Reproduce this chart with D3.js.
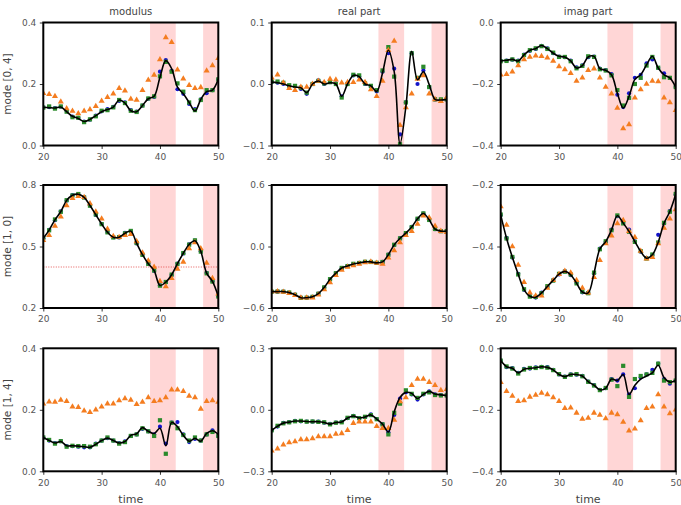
<!DOCTYPE html>
<html><head><meta charset="utf-8">
<script src="https://cdn.jsdelivr.net/npm/d3@7"></script>
<style>body{margin:0;background:#fff}svg{display:block}</style>
</head><body>
<script>
const time = [20,21,22,23,24,25,26,27,28,29,30,31,32,33,34,35,36,37,38,39,40,41,42,43,44,45,46,47,48,49,50];
const colTitles = ["modulus", "real part", "imag part"];
const rowLabels = ["mode [0, 4]", "mode [1, 0]", "mode [1, 4]"];
const xTicks = [20, 30, 40, 50];
const spans = [[38.3, 42.7], [47.4, 50.5]];
const yTicks = [
  [[0.0, 0.2, 0.4], [-0.1, 0.0, 0.1], [-0.4, -0.2, 0.0]],
  [[0.2, 0.5, 0.8], [-0.6, 0.0, 0.6], [-0.6, -0.4, -0.2]],
  [[0.0, 0.2, 0.4], [-0.3, 0.0, 0.3], [-0.4, -0.2, 0.0]]
];
const refLine10 = 0.4;

// mode [0,4]
const truthMod04 = [0.124,0.123,0.122,0.125,0.11,0.095,0.088,0.078,0.085,0.097,0.11,0.117,0.125,0.148,0.138,0.113,0.11,0.13,0.152,0.16,0.222,0.276,0.25,0.19,0.168,0.14,0.112,0.15,0.175,0.18,0.215];
const blueMod04  = [0.124,0.125,0.122,0.126,0.112,0.094,0.09,0.078,0.084,0.097,0.111,0.118,0.126,0.145,0.14,0.115,0.11,0.13,0.152,0.158,0.24,0.278,0.243,0.183,0.168,0.135,0.118,0.15,0.17,0.18,0.215];
const greenMod04 = [0.123,0.127,0.12,0.127,0.11,0.092,0.09,0.076,0.085,0.095,0.113,0.115,0.124,0.148,0.138,0.113,0.109,0.13,0.153,0.16,0.225,0.272,0.24,0.202,0.175,0.14,0.115,0.148,0.18,0.18,0.215];
const orangeMod04= [0.17,0.167,0.16,0.142,0.12,0.112,0.104,0.112,0.117,0.128,0.145,0.157,0.168,0.186,0.178,0.151,0.148,0.18,0.213,0.229,0.28,0.351,0.336,0.246,0.217,0.196,0.186,0.189,0.243,0.26,0.284];

const truthRe04  = [0.003,0.002,0.0,-0.003,-0.005,-0.006,-0.014,0.0,0.005,0.0,0.002,0.0,-0.02,0.0,0.014,0.012,0.0,-0.003,-0.012,0.018,0.055,0.02,-0.097,-0.037,0.053,0.007,0.02,-0.001,-0.025,-0.026,-0.025];
const blueRe04   = [0.003,0.002,0.0,-0.004,-0.004,-0.008,-0.016,0.0,0.006,0.0,0.003,0.001,-0.02,0.0,0.014,0.012,0.0,-0.004,-0.012,0.02,0.05,0.025,-0.082,-0.03,0.05,0.0,0.022,-0.005,-0.025,-0.027,-0.025];
const greenRe04  = [0.004,0.004,0.002,-0.002,-0.003,-0.006,-0.014,0.0,0.005,0.001,0.003,0.0,-0.022,0.0,0.015,0.014,0.001,-0.003,-0.01,0.022,0.06,0.012,-0.098,-0.03,0.05,0.01,0.028,-0.005,-0.025,-0.025,-0.025];
const orangeRe04 = [0.01,0.015,0.002,-0.007,-0.01,-0.005,-0.005,0.0,0.005,0.003,0.008,0.007,0.002,0.003,0.003,0.007,0.003,-0.009,-0.02,0.005,0.055,0.07,-0.067,-0.038,-0.016,0.008,0.014,-0.016,-0.025,-0.028,-0.022];

const truthIm04  = [-0.125,-0.123,-0.12,-0.125,-0.105,-0.09,-0.085,-0.075,-0.085,-0.1,-0.11,-0.112,-0.125,-0.148,-0.14,-0.112,-0.11,-0.15,-0.155,-0.17,-0.23,-0.278,-0.24,-0.185,-0.17,-0.138,-0.11,-0.148,-0.17,-0.18,-0.21];
const blueIm04   = [-0.125,-0.124,-0.121,-0.124,-0.104,-0.092,-0.086,-0.076,-0.084,-0.1,-0.111,-0.113,-0.124,-0.146,-0.139,-0.113,-0.111,-0.15,-0.155,-0.168,-0.235,-0.275,-0.23,-0.18,-0.17,-0.133,-0.12,-0.148,-0.165,-0.18,-0.21];
const greenIm04  = [-0.126,-0.125,-0.12,-0.126,-0.106,-0.09,-0.084,-0.077,-0.086,-0.098,-0.112,-0.112,-0.126,-0.149,-0.141,-0.11,-0.112,-0.152,-0.156,-0.172,-0.22,-0.27,-0.245,-0.2,-0.18,-0.14,-0.112,-0.147,-0.178,-0.18,-0.21];
const orangeIm04 = [-0.17,-0.168,-0.16,-0.14,-0.12,-0.112,-0.108,-0.11,-0.115,-0.125,-0.143,-0.153,-0.165,-0.19,-0.18,-0.155,-0.15,-0.18,-0.21,-0.232,-0.278,-0.345,-0.332,-0.245,-0.218,-0.2,-0.19,-0.192,-0.245,-0.26,-0.285];

// mode [1,0]
const truthMod10 = [0.54,0.58,0.63,0.67,0.725,0.75,0.755,0.74,0.70,0.655,0.61,0.57,0.545,0.545,0.565,0.575,0.516,0.46,0.416,0.382,0.31,0.326,0.362,0.416,0.467,0.51,0.528,0.476,0.37,0.33,0.257];
const blueMod10  = [0.54,0.581,0.628,0.672,0.724,0.751,0.754,0.741,0.701,0.654,0.61,0.571,0.546,0.544,0.566,0.574,0.515,0.461,0.417,0.381,0.311,0.325,0.361,0.417,0.466,0.511,0.529,0.477,0.371,0.331,0.258];
const greenMod10 = [0.542,0.579,0.632,0.669,0.726,0.749,0.756,0.739,0.699,0.656,0.609,0.569,0.544,0.546,0.564,0.576,0.517,0.459,0.415,0.383,0.309,0.327,0.363,0.415,0.468,0.509,0.53,0.475,0.369,0.329,0.256];
const orangeMod10= [0.53,0.555,0.6,0.645,0.7,0.735,0.745,0.74,0.71,0.67,0.635,0.585,0.55,0.545,0.555,0.56,0.525,0.47,0.43,0.4,0.33,0.305,0.345,0.39,0.425,0.49,0.52,0.49,0.42,0.345,0.27];

const truthRe10  = [-0.44,-0.44,-0.44,-0.45,-0.47,-0.5,-0.5,-0.49,-0.46,-0.4,-0.32,-0.26,-0.21,-0.19,-0.17,-0.16,-0.15,-0.15,-0.16,-0.15,-0.08,0.016,0.08,0.13,0.19,0.27,0.322,0.26,0.17,0.15,0.15];
const blueRe10   = [-0.44,-0.441,-0.44,-0.451,-0.47,-0.499,-0.501,-0.49,-0.459,-0.401,-0.321,-0.259,-0.211,-0.189,-0.171,-0.159,-0.151,-0.149,-0.161,-0.149,-0.079,0.015,0.081,0.129,0.191,0.269,0.321,0.261,0.169,0.151,0.149];
const greenRe10  = [-0.441,-0.439,-0.441,-0.449,-0.471,-0.501,-0.499,-0.491,-0.461,-0.399,-0.319,-0.261,-0.209,-0.191,-0.169,-0.161,-0.149,-0.151,-0.159,-0.151,-0.081,0.017,0.079,0.131,0.189,0.271,0.323,0.259,0.171,0.149,0.151];
const orangeRe10 = [-0.44,-0.44,-0.445,-0.455,-0.475,-0.5,-0.5,-0.5,-0.47,-0.42,-0.35,-0.28,-0.23,-0.2,-0.185,-0.17,-0.155,-0.15,-0.16,-0.17,-0.11,-0.04,0.04,0.11,0.15,0.22,0.3,0.28,0.2,0.15,0.14];

const truthIm10  = [-0.297,-0.373,-0.435,-0.49,-0.54,-0.562,-0.565,-0.551,-0.53,-0.51,-0.49,-0.481,-0.492,-0.519,-0.548,-0.551,-0.486,-0.408,-0.384,-0.346,-0.3,-0.324,-0.351,-0.384,-0.416,-0.438,-0.427,-0.386,-0.324,-0.286,-0.23];
const blueIm10   = [-0.298,-0.372,-0.436,-0.489,-0.541,-0.561,-0.566,-0.55,-0.531,-0.509,-0.491,-0.48,-0.493,-0.518,-0.549,-0.55,-0.487,-0.407,-0.385,-0.345,-0.301,-0.323,-0.345,-0.383,-0.417,-0.437,-0.428,-0.362,-0.325,-0.285,-0.231];
const greenIm10  = [-0.296,-0.374,-0.434,-0.491,-0.539,-0.563,-0.564,-0.552,-0.529,-0.511,-0.489,-0.482,-0.491,-0.52,-0.547,-0.552,-0.485,-0.409,-0.383,-0.347,-0.299,-0.325,-0.352,-0.385,-0.415,-0.439,-0.426,-0.387,-0.323,-0.287,-0.229];
const orangeIm10 = [-0.27,-0.33,-0.4,-0.46,-0.516,-0.55,-0.56,-0.56,-0.535,-0.51,-0.49,-0.48,-0.485,-0.51,-0.535,-0.55,-0.5,-0.445,-0.39,-0.365,-0.325,-0.315,-0.35,-0.37,-0.415,-0.44,-0.435,-0.39,-0.34,-0.31,-0.28];

// mode [1,4]
const truthMod14 = [0.11,0.1,0.092,0.097,0.083,0.083,0.082,0.08,0.078,0.088,0.1,0.108,0.1,0.092,0.097,0.117,0.122,0.142,0.13,0.123,0.14,0.083,0.159,0.145,0.117,0.098,0.107,0.098,0.123,0.132,0.12];
const blueMod14  = [0.11,0.1,0.092,0.098,0.082,0.082,0.08,0.078,0.078,0.09,0.1,0.108,0.1,0.092,0.097,0.115,0.12,0.138,0.13,0.12,0.145,0.09,0.158,0.16,0.12,0.095,0.105,0.1,0.12,0.133,0.115];
const greenMod14 = [0.11,0.102,0.09,0.098,0.08,0.083,0.082,0.082,0.08,0.088,0.1,0.11,0.1,0.09,0.095,0.115,0.12,0.14,0.13,0.115,0.166,0.057,0.158,0.14,0.118,0.1,0.11,0.1,0.12,0.128,0.115];
const orangeMod14= [0.22,0.226,0.225,0.232,0.228,0.21,0.208,0.197,0.192,0.2,0.21,0.22,0.22,0.23,0.237,0.232,0.218,0.225,0.24,0.228,0.23,0.24,0.265,0.265,0.26,0.245,0.24,0.203,0.228,0.23,0.225];

const truthRe14  = [-0.1,-0.08,-0.065,-0.06,-0.055,-0.055,-0.057,-0.058,-0.058,-0.062,-0.07,-0.062,-0.06,-0.04,-0.03,-0.04,-0.035,-0.025,-0.045,-0.07,-0.108,-0.01,0.06,0.085,0.08,0.055,0.075,0.09,0.077,0.073,0.07];
const blueRe14   = [-0.1,-0.082,-0.064,-0.06,-0.054,-0.056,-0.057,-0.058,-0.057,-0.063,-0.069,-0.062,-0.059,-0.041,-0.03,-0.04,-0.036,-0.022,-0.045,-0.07,-0.11,-0.025,0.055,0.085,0.075,0.05,0.075,0.09,0.075,0.072,0.07];
const greenRe14  = [-0.1,-0.078,-0.066,-0.061,-0.056,-0.054,-0.058,-0.057,-0.059,-0.061,-0.071,-0.063,-0.061,-0.039,-0.031,-0.041,-0.034,-0.026,-0.046,-0.071,-0.12,-0.015,0.03,0.095,0.078,0.058,0.078,0.085,0.072,0.07,0.07];
const orangeRe14 = [-0.2,-0.19,-0.17,-0.16,-0.155,-0.145,-0.145,-0.14,-0.13,-0.13,-0.13,-0.118,-0.115,-0.1,-0.065,-0.058,-0.058,-0.058,-0.08,-0.09,-0.09,-0.05,0.04,0.06,0.12,0.15,0.15,0.135,0.12,0.095,0.1];

const truthIm14  = [-0.04,-0.06,-0.065,-0.08,-0.068,-0.065,-0.063,-0.06,-0.062,-0.07,-0.085,-0.092,-0.085,-0.085,-0.09,-0.108,-0.12,-0.135,-0.13,-0.1,-0.105,-0.085,-0.15,-0.12,-0.1,-0.09,-0.08,-0.055,-0.095,-0.11,-0.105];
const blueIm14   = [-0.04,-0.061,-0.064,-0.08,-0.067,-0.066,-0.062,-0.06,-0.061,-0.07,-0.085,-0.092,-0.085,-0.086,-0.09,-0.108,-0.12,-0.135,-0.13,-0.1,-0.105,-0.085,-0.15,-0.13,-0.095,-0.085,-0.07,-0.05,-0.1,-0.115,-0.105];
const greenIm14  = [-0.04,-0.059,-0.066,-0.082,-0.069,-0.064,-0.064,-0.061,-0.063,-0.071,-0.084,-0.093,-0.086,-0.084,-0.091,-0.109,-0.121,-0.136,-0.129,-0.102,-0.123,-0.057,-0.158,-0.1,-0.09,-0.085,-0.08,-0.05,-0.105,-0.11,-0.105];
const orangeIm14 = [-0.11,-0.14,-0.155,-0.172,-0.17,-0.158,-0.152,-0.145,-0.15,-0.16,-0.172,-0.195,-0.193,-0.21,-0.23,-0.227,-0.21,-0.217,-0.228,-0.21,-0.215,-0.24,-0.268,-0.262,-0.235,-0.195,-0.19,-0.15,-0.19,-0.212,-0.2];

const panels = [
  [[truthMod04, blueMod04, greenMod04, orangeMod04], [truthRe04, blueRe04, greenRe04, orangeRe04], [truthIm04, blueIm04, greenIm04, orangeIm04]],
  [[truthMod10, blueMod10, greenMod10, orangeMod10], [truthRe10, blueRe10, greenRe10, orangeRe10], [truthIm10, blueIm10, greenIm10, orangeIm10]],
  [[truthMod14, blueMod14, greenMod14, orangeMod14], [truthRe14, blueRe14, greenRe14, orangeRe14], [truthIm14, blueIm14, greenIm14, orangeIm14]]
];

const W = 681, H = 505;
const colLeft = [43.3, 271.7, 500.7], pw = 175;
const rowTop = [22.5, 185, 348.3], ph = 123;
const txt = "#444";
const font = "DejaVu Sans, sans-serif";
const C = {blue: "#1414c8", green: "#2b8a2b", orange: "#f47d20"};

const svg = d3.select("body").append("svg").attr("width", W).attr("height", H);

panels.forEach((row, r) => {
  row.forEach((series, c) => {
    const g = svg.append("g").attr("transform", `translate(${colLeft[c]},${rowTop[r]})`);
    const ticks = yTicks[r][c];
    const x = d3.scaleLinear().domain([20, 50]).range([0, pw]);
    const y = d3.scaleLinear().domain([ticks[0], ticks[2]]).range([ph, 0]);
    const cid = `clip${r}${c}`;
    g.append("clipPath").attr("id", cid).append("rect").attr("width", pw).attr("height", ph);
    const plot = g.append("g").attr("clip-path", `url(#${cid})`);
    spans.forEach(s => plot.append("rect").attr("x", x(s[0])).attr("width", x(s[1]) - x(s[0]))
      .attr("y", 0).attr("height", ph).attr("fill", "#ffd6d6"));
    if (r === 1 && c === 0) {
      plot.append("line").attr("x1", 0).attr("x2", pw).attr("y1", y(refLine10)).attr("y2", y(refLine10))
        .attr("stroke", "#e03030").attr("stroke-width", 0.8).attr("stroke-dasharray", "1,1.5");
    }
    const [truth, blue, green, orange] = series;
    plot.selectAll(".b").data(blue).join("circle").attr("cx", (d, i) => x(time[i])).attr("cy", d => y(d))
      .attr("r", 2.1).attr("fill", C.blue);
    plot.selectAll(".g").data(green).join("rect").attr("x", (d, i) => x(time[i]) - 2.1).attr("y", d => y(d) - 2.1)
      .attr("width", 4.2).attr("height", 4.2).attr("fill", C.green);
    const tri = d3.symbol().type(d3.symbolTriangle).size(16);
    plot.selectAll(".o").data(orange).join("path").attr("d", tri)
      .attr("transform", (d, i) => `translate(${x(time[i])},${y(d)})`).attr("fill", C.orange);
    const line = d3.line().x((d, i) => x(time[i])).y(d => y(d)).curve(d3.curveCatmullRom.alpha(0.5));
    plot.append("path").attr("d", line(truth)).attr("fill", "none").attr("stroke", "#000").attr("stroke-width", 1.6);

    const xa = g.append("g").attr("transform", `translate(0,${ph})`)
      .call(d3.axisBottom(x).tickValues(xTicks).tickSize(3.5).tickPadding(4.5).tickFormat(d3.format("d")));
    const ya = g.append("g").call(d3.axisLeft(y).tickValues(ticks).tickSize(3.5).tickPadding(3.5)
      .tickFormat(d => d3.format(".1f")(d).replace("-", "\u2212")));
    [xa, ya].forEach(a => {
      a.select(".domain").remove();
      a.selectAll("line").attr("stroke", "#000").attr("stroke-width", 0.8);
      a.selectAll("text").attr("fill", "#555").style("font-family", font).style("font-size", "9px");
    });
    g.append("rect").attr("width", pw).attr("height", ph).attr("fill", "none").attr("stroke", "#000").attr("stroke-width", 2);

    if (r === 0) g.append("text").attr("x", pw / 2).attr("y", -8).attr("text-anchor", "middle")
      .attr("fill", txt).style("font-family", font).style("font-size", "10px").text(colTitles[c]);
    if (c === 0) g.append("text").attr("transform", `translate(${-32},${ph / 2}) rotate(-90)`)
      .attr("text-anchor", "middle").attr("fill", txt).style("font-family", font).style("font-size", "10.5px").text(rowLabels[r]);
    if (r === 2) g.append("text").attr("x", pw / 2).attr("y", ph + 32).attr("text-anchor", "middle")
      .attr("fill", txt).style("font-family", font).style("font-size", "11px").text("time");
  });
});
</script>
</body></html>
